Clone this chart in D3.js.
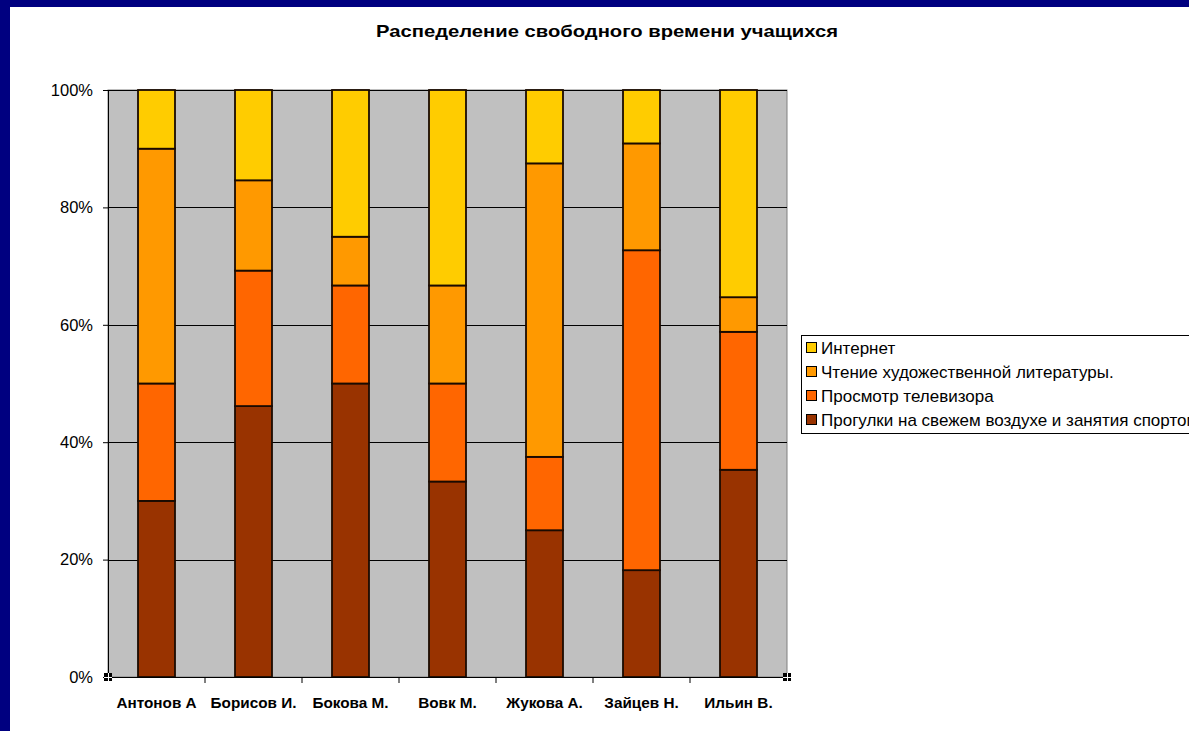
<!DOCTYPE html>
<html>
<head>
<meta charset="utf-8">
<script src="https://cdn.jsdelivr.net/npm/d3@7"></script>
<style>
html,body{margin:0;padding:0;background:#000080;}
svg{display:block;}
</style>
</head>
<body>
<svg id="chart" width="1189" height="731"></svg>
<script>
const title = "Распеделение свободного времени учащихся";
const categories = ["Антонов А", "Борисов И.", "Бокова М.", "Вовк М.", "Жукова А.", "Зайцев Н.", "Ильин В."];
const seriesNames = ["Прогулки на свежем воздухе и занятия спортом", "Просмотр телевизора", "Чтение художественной литературы.", "Интернет"];
const walks   = [30, 46.2, 50, 33.3, 25, 18.2, 35.3];
const tv      = [20, 23.1, 16.7, 16.7, 12.5, 54.5, 23.5];
const reading = [40, 15.4, 8.3, 16.7, 50, 18.2, 5.9];
const internet= [10, 15.4, 25, 33.3, 12.5, 9.1, 35.3];
const colors = ["#993300", "#FF6600", "#FF9900", "#FFCC00"];
const yTicks = [0, 0.2, 0.4, 0.6, 0.8, 1.0];

const svg = d3.select("#chart");
const font = "Arial, 'Liberation Sans', sans-serif";

// white panel
svg.append("rect").attr("x", 10).attr("y", 7).attr("width", 1179).attr("height", 724).attr("fill", "#fff");

const m = {left: 108, top: 90, right: 787, bottom: 677};
const x = d3.scaleBand().domain(categories).range([m.left, m.right]).paddingInner(0.6186).paddingOuter(0.3093);
const xb = d3.scaleBand().domain(categories).range([m.left, m.right]);
const y = d3.scaleLinear().domain([0, 1]).range([m.bottom, m.top]);

// plot background
svg.append("rect").attr("x", m.left).attr("y", m.top).attr("width", m.right - m.left).attr("height", m.bottom - m.top)
  .attr("fill", "#C0C0C0").attr("stroke", "#808080").attr("stroke-width", 1);

// gridlines
svg.append("g").selectAll("line").data(yTicks.slice(1)).join("line")
  .attr("x1", m.left).attr("x2", m.right)
  .attr("y1", d => Math.round(y(d)) + 0.5).attr("y2", d => Math.round(y(d)) + 0.5)
  .attr("stroke", "#000").attr("stroke-width", 1);

// stacked data
const rows = categories.map((c, i) => {
  const vals = [walks[i], tv[i], reading[i], internet[i]];
  const tot = d3.sum(vals);
  const o = {cat: c};
  seriesNames.forEach((s, k) => o[s] = vals[k] / tot);
  return o;
});
const stack = d3.stack().keys(seriesNames)(rows);

const gBars = svg.append("g");
stack.forEach((layer, k) => {
  gBars.selectAll(null).data(layer).join("rect")
    .attr("x", d => x(d.data.cat))
    .attr("width", x.bandwidth())
    .attr("y", d => y(d[1]))
    .attr("height", d => y(d[0]) - y(d[1]))
    .attr("fill", colors[k])
    .attr("stroke", "#1a0a00").attr("stroke-width", 1.8);
});

// axes
const yAxis = d3.axisLeft(y).tickValues(yTicks).tickFormat(d3.format(".0%")).tickSize(5).tickPadding(10);
const gy = svg.append("g").attr("transform", `translate(${m.left},0)`).call(yAxis);
gy.select(".domain").attr("stroke", "#000");
gy.selectAll("text").attr("font-family", font).attr("font-size", 16.5).attr("fill", "#000");

const gx = svg.append("g").attr("transform", `translate(0,${m.bottom})`)
  .call(d3.axisBottom(xb).tickSize(0).tickPadding(20));
gx.select(".domain").attr("stroke", "#000");
gx.selectAll("text").attr("font-family", font).attr("font-size", 15.3).attr("font-weight", "bold").attr("fill", "#000");
// category boundary ticks
gx.append("g").selectAll("line").data(categories.slice(1)).join("line")
  .attr("x1", d => xb(d)).attr("x2", d => xb(d)).attr("y1", 0).attr("y2", 6).attr("stroke", "#000");

// selection handles
[[m.left, m.bottom], [m.right, m.bottom]].forEach(([hx, hy]) => {
  svg.append("rect").attr("x", hx - 4).attr("y", hy - 4).attr("width", 8).attr("height", 8).attr("fill", "#000");
  svg.append("line").attr("x1", hx - 4).attr("x2", hx + 4).attr("y1", hy + 0.5).attr("y2", hy + 0.5).attr("stroke", "#fff").attr("stroke-width", 1);
  svg.append("line").attr("x1", hx + 0.5).attr("x2", hx + 0.5).attr("y1", hy - 4).attr("y2", hy + 4).attr("stroke", "#fff").attr("stroke-width", 1);
});

// title
svg.append("text").attr("x", 607).attr("y", 37).attr("text-anchor", "middle")
  .attr("font-family", font).attr("font-size", 17).attr("font-weight", "bold")
  .attr("textLength", 462).attr("lengthAdjust", "spacingAndGlyphs").text(title);

// legend
const lg = svg.append("g");
lg.append("rect").attr("x", 801.5).attr("y", 335.5).attr("width", 420).attr("height", 98)
  .attr("fill", "#fff").attr("stroke", "#000").attr("stroke-width", 1);
const legendItems = seriesNames.slice().reverse();
const legendColors = colors.slice().reverse();
legendItems.forEach((s, i) => {
  const ly = 348 + i * 24;
  lg.append("rect").attr("x", 806.5).attr("y", ly - 5.5).attr("width", 10).attr("height", 10)
    .attr("fill", legendColors[i]).attr("stroke", "#000").attr("stroke-width", 1);
  lg.append("text").attr("x", 821).attr("y", ly + 5.5).attr("font-family", font).attr("font-size", 17)
    .attr("fill", "#000").text(s);
});
</script>
</body>
</html>
